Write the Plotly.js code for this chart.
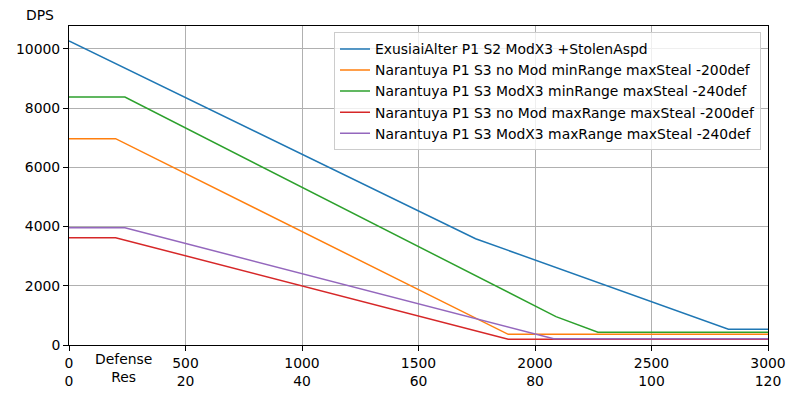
<!DOCTYPE html>
<html>
<head>
<meta charset="utf-8">
<script src="https://cdn.plot.ly/plotly-3.0.1.min.js"></script>
<style>
  html, body { margin: 0; padding: 0; background: #fff; }
  #chart { width: 800px; height: 400px; }
</style>
</head>
<body>
<div id="chart"></div>
<script>
// DPS vs enemy defense
const seriesNames = [
  'ExusiaiAlter P1 S2 ModX3 +StolenAspd',
  'Narantuya P1 S3 no Mod minRange maxSteal -200def',
  'Narantuya P1 S3 ModX3 minRange maxSteal -240def',
  'Narantuya P1 S3 no Mod maxRange maxSteal -200def',
  'Narantuya P1 S3 ModX3 maxRange maxSteal -240def'
];

const exuDef = [0, 1745, 2830, 3000];
const exuDps = [10270, 3590, 530, 530];

const narNoModMinDef = [0, 200, 1885, 3000];
const narNoModMinDps = [6970, 6970, 360, 360];

const narModMinDef = [0, 240, 2090, 2270, 3000];
const narModMinDps = [8375, 8375, 960, 430, 430];

const narNoModMaxDef = [0, 200, 1885, 3000];
const narNoModMaxDps = [3625, 3625, 192, 192];

const narModMaxDef = [0, 240, 2080, 3000];
const narModMaxDps = [3960, 3960, 212, 212];

const defenseTicks = [0, 500, 1000, 1500, 2000, 2500, 3000];
const resTicks = [0, 20, 40, 60, 80, 100, 120];
const dpsTicks = [0, 2000, 4000, 6000, 8000, 10000];

const lineColors = ['#1f77b4', '#ff7f0e', '#2ca02c', '#d62728', '#9467bd'];
const font = 'DejaVu Sans, sans-serif';
const fsize = 13.9;

const xs = [exuDef, narNoModMinDef, narModMinDef, narNoModMaxDef, narModMaxDef];
const ys = [exuDps, narNoModMinDps, narModMinDps, narNoModMaxDps, narModMaxDps];

const traces = seriesNames.map((name, i) => ({
  type: 'scatter', mode: 'lines',
  name: name,
  x: xs[i], y: ys[i],
  line: { color: lineColors[i], width: 1.5 },
  hoverinfo: 'skip'
}));

const layout = {
  width: 800, height: 400,
  paper_bgcolor: '#ffffff', plot_bgcolor: '#ffffff',
  font: { family: font, size: fsize, color: '#000000' },
  margin: { l: 69, r: 32, t: 26, b: 55 },
  xaxis: {
    range: [0, 3000],
    tickvals: defenseTicks,
    ticktext: defenseTicks.map((d, i) => d + '<br>' + resTicks[i]),
    ticks: 'outside', ticklen: 5, tickcolor: '#000', tickwidth: 1,
    showgrid: true, gridcolor: '#b0b0b0', gridwidth: 1,
    zeroline: false,
    showline: true, linecolor: '#000', linewidth: 1, mirror: true
  },
  yaxis: {
    range: [0, 10775],
    tickvals: dpsTicks,
    ticktext: dpsTicks.map(String),
    ticks: 'outside', ticklen: 5, tickcolor: '#000', tickwidth: 1,
    showgrid: true, gridcolor: '#b0b0b0', gridwidth: 1,
    zeroline: false,
    showline: true, linecolor: '#000', linewidth: 1, mirror: true
  },
  showlegend: true,
  legend: {
    x: 0.99, y: 0.98, xanchor: 'right', yanchor: 'top',
    bgcolor: 'rgba(255,255,255,0.8)', bordercolor: '#cccccc', borderwidth: 1,
    font: { family: font, size: fsize, color: '#000' }
  },
  annotations: [
    {
      text: 'DPS', xref: 'paper', yref: 'paper',
      x: -0.041, y: 1.034, xanchor: 'center', yanchor: 'middle',
      showarrow: false, font: { family: font, size: fsize }
    },
    {
      text: 'Defense<br>Res', xref: 'x', yref: 'paper',
      x: 236, y: 0, xanchor: 'center', yanchor: 'top', yshift: -4,
      showarrow: false, font: { family: font, size: fsize }
    }
  ]
};

Plotly.newPlot('chart', traces, layout, { displayModeBar: false, staticPlot: true });
</script>
</body>
</html>
